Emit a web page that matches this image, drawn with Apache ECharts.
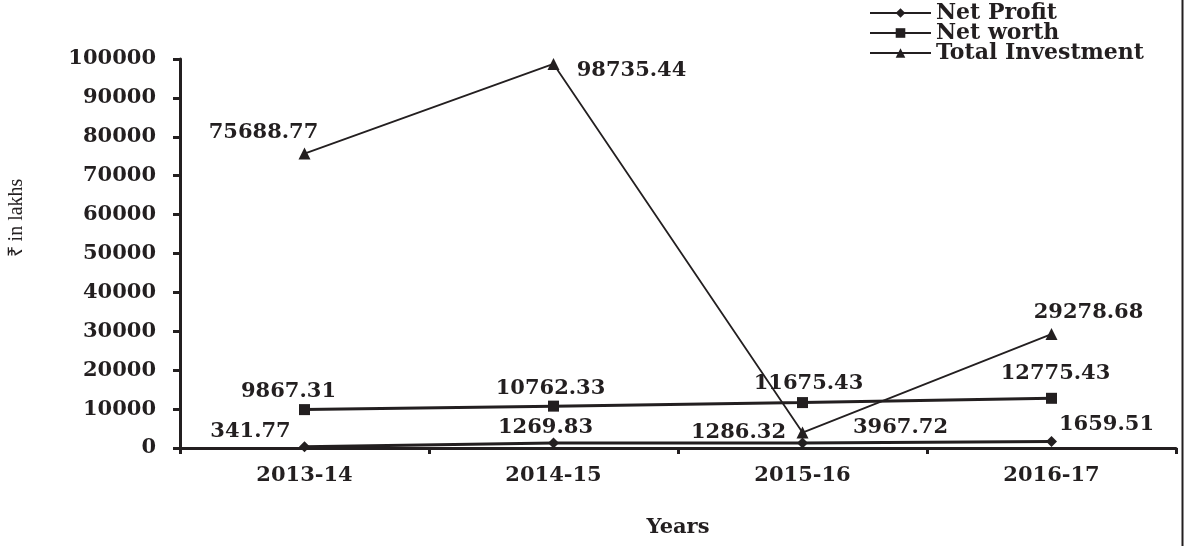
<!DOCTYPE html>
<html>
<head>
<meta charset="utf-8">
<script src="https://cdn.jsdelivr.net/npm/echarts@6/dist/echarts.min.js"></script>
<style>html,body{margin:0;padding:0;background:#fff}#c{width:1184px;height:546px}</style>
</head>
<body>
<div id="c"></div>
<script>
const categories = ['2013-14', '2014-15', '2015-16', '2016-17'];
const netProfit = [341.77, 1269.83, 1286.32, 1659.51];
const netWorth = [9867.31, 10762.33, 11675.43, 12775.43];
const totalInvestment = [75688.77, 98735.44, 3967.72, 29278.68];
const yTicks = { min: 0, max: 100000, interval: 10000 };

// label offsets (styling only), relative to the point centre
const npOffsets = [[-54, -15], [-8, -16], [-64, -10], [55, -17]];
const nwOffsets = [[-16, -18], [-3, -18], [6, -19], [4, -25]];
const tiOffsets = [[-41, -21], [78, 7], [98, -5], [37, -22]];

const INK = '#231f20';
const FONT = '"DejaVu Serif", serif';
const FS = 21;
const labelStyle = { show: true, position: 'inside', color: INK, fontFamily: FONT, fontWeight: 'bold', fontSize: FS };

function build(values, offsets) {
  return values.map((v, i) => ({ value: v, label: Object.assign({}, labelStyle, { offset: offsets[i] }) }));
}

const chart = echarts.init(document.getElementById('c'));
chart.setOption({
  animation: false,
  backgroundColor: '#fff',
  grid: { left: 180, right: 8, top: 59, bottom: 98, containLabel: false, outerBoundsMode: 'none' },
  legend: {
    orient: 'vertical', left: 864, top: -3, itemWidth: 61, itemHeight: 12, itemGap: -2,
    textStyle: { color: INK, fontFamily: FONT, fontWeight: 'bold', fontSize: 22, lineHeight: 20, padding: [0, 0, 0, 0] },
    data: ['Net Profit', 'Net worth', 'Total Investment']
  },
  xAxis: {
    type: 'category', data: categories, boundaryGap: true,
    name: 'Years', nameLocation: 'middle', nameGap: 69,
    nameTextStyle: { color: INK, fontFamily: FONT, fontWeight: 'bold', fontSize: FS },
    axisLine: { lineStyle: { color: INK, width: 3 } },
    axisTick: { show: true, length: 6, lineStyle: { color: INK, width: 3 } },
    axisLabel: { color: INK, fontFamily: FONT, fontWeight: 'bold', fontSize: FS, margin: 17 },
    splitLine: { show: false }
  },
  yAxis: {
    type: 'value', min: yTicks.min, max: yTicks.max, interval: yTicks.interval,
    axisLine: { show: true, lineStyle: { color: INK, width: 3 } },
    axisTick: { show: true, length: 7, lineStyle: { color: INK, width: 3 } },
    axisLabel: { color: INK, fontFamily: FONT, fontWeight: 'bold', fontSize: FS, margin: 24,
      formatter: v => String(v) },
    splitLine: { show: false }
  },
  graphic: [
    { type: 'text', x: 17, y: 218, rotation: Math.PI / 2,
      style: { text: '₹ in lakhs', fill: INK, font: '20px "Liberation Serif", serif', textAlign: 'center', textVerticalAlign: 'middle' } },
    { type: 'line', shape: { x1: 1182.5, y1: 0, x2: 1182.5, y2: 546 }, style: { stroke: INK, lineWidth: 2 } }
  ],
  series: [
    { name: 'Net Profit', type: 'line', data: build(netProfit, npOffsets), symbol: 'diamond', symbolSize: 11,
      itemStyle: { color: INK }, lineStyle: { color: INK, width: 3 }, z: 3 },
    { name: 'Net worth', type: 'line', data: build(netWorth, nwOffsets), symbol: 'rect', symbolSize: 11,
      itemStyle: { color: INK }, lineStyle: { color: INK, width: 3 }, z: 3 },
    { name: 'Total Investment', type: 'line', data: build(totalInvestment, tiOffsets), symbol: 'triangle', symbolSize: 12,
      itemStyle: { color: INK }, lineStyle: { color: INK, width: 1.8 }, z: 2 }
  ]
});
</script>
</body>
</html>
